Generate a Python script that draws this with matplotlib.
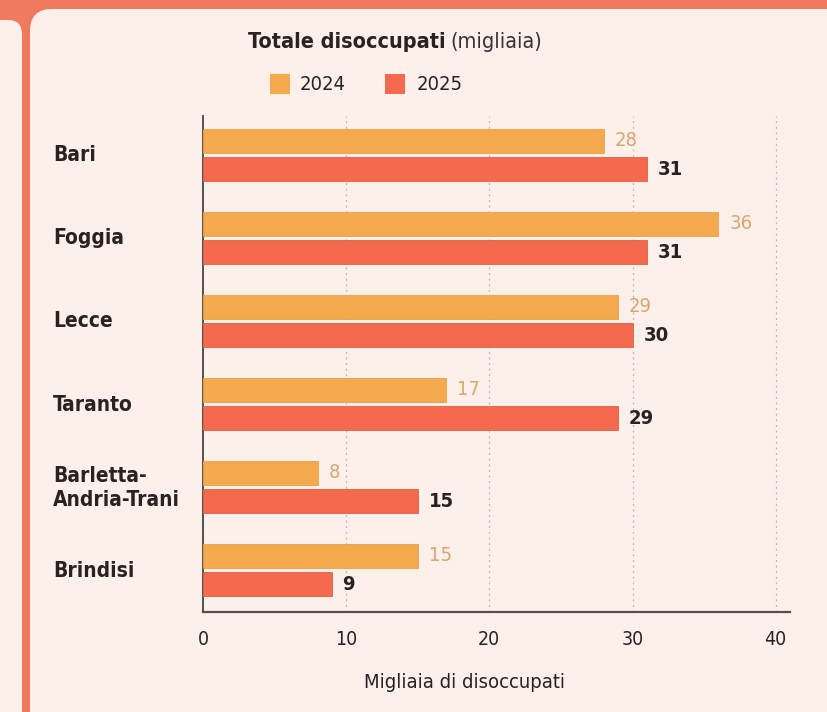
import matplotlib.pyplot as plt
import numpy as np
from matplotlib import font_manager
from matplotlib.patches import FancyBboxPatch, Rectangle

# --- dati ---
province = ["Bari", "Foggia", "Lecce", "Taranto", "Barletta-\nAndria-Trani", "Brindisi"]
val_2024 = [28, 36, 29, 17, 8, 15]
val_2025 = [31, 31, 30, 29, 15, 9]
anni = ["2024", "2025"]
x_ticks = [0, 10, 20, 30, 40]

# --- font stretto se disponibile ---
nomi = {f.name for f in font_manager.fontManager.ttflist}
stretti = [f for f in font_manager.fontManager.ttflist
           if f.stretch in ('condensed', 'semi-condensed', 'extra-condensed')]
if "Liberation Sans Narrow" in nomi:
    plt.rcParams['font.family'] = ["Liberation Sans Narrow", "DejaVu Sans"]
elif stretti:
    plt.rcParams['font.family'] = [stretti[0].name, "DejaVu Sans"]
    plt.rcParams['font.stretch'] = 'condensed'
else:
    plt.rcParams['font.family'] = ["DejaVu Sans"]

col_24, col_25 = '#f5a94f', '#f46a4e'
bordo = '#f07a5c'
sfondo = '#fdf0ea'
scuro = '#2a2222'

fig = plt.figure(figsize=(8.27, 7.12), dpi=100, facecolor=bordo)

# pannelli arrotondati (coordinate in pixel)
fig.patches.append(FancyBboxPatch((-60, -60), 82, 752, boxstyle="round,pad=0,rounding_size=14",
                                  transform=None, facecolor=sfondo, edgecolor='none', zorder=-5))
fig.patches.append(FancyBboxPatch((30, -60), 900, 763, boxstyle="round,pad=0,rounding_size=22",
                                  transform=None, facecolor=sfondo, edgecolor='none', zorder=-5))

ax = fig.add_axes([0.2455, 0.1404, 0.7098, 0.6966])
ax.set_facecolor('none')
ax.set_zorder(2)

y = np.arange(len(province))
h = 0.29
off = 0.172
ax.barh(y - off, val_2024, height=h, color=col_24, edgecolor='#e8a04a', linewidth=0.6, zorder=3)
ax.barh(y + off, val_2025, height=h, color=col_25, edgecolor='#e06046', linewidth=0.6, zorder=3)

for i in range(len(province)):
    ax.text(val_2024[i] + 0.75, y[i] - off, str(val_2024[i]), va='center', ha='left',
            fontsize=14.5, color='#d9a66e')
    ax.text(val_2025[i] + 0.75, y[i] + off, str(val_2025[i]), va='center', ha='left',
            fontsize=14.5, color=scuro, fontweight='bold')

ax.set_xlim(0, 41)
ax.set_ylim(5.506, -0.47)
ax.set_xticks(x_ticks)
ax.set_xticklabels([str(t) for t in x_ticks], fontsize=14, color=scuro)
ax.tick_params(axis='x', length=0, pad=13)
ax.set_yticks([])
for t in x_ticks[1:]:
    ax.axvline(t, color='#b9b4b6', linestyle=(0, (1.5, 3)), linewidth=0.9, zorder=1)

for s in ['top', 'right']:
    ax.spines[s].set_visible(False)
ax.spines['left'].set_color('#555050')
ax.spines['bottom'].set_color('#555050')
ax.spines['left'].set_linewidth(1.4)
ax.spines['bottom'].set_linewidth(1.6)

ax.set_xlabel("Migliaia di disoccupati", fontsize=14.5, color=scuro)
ax.xaxis.set_label_coords(0.445, -0.122)

# etichette province
for i, nome in enumerate(province):
    fig.text(53 / 827, 1 - (155 + 83.2 * i) / 712, nome, ha='left', va='center',
             fontsize=15, fontweight='bold', color=scuro, linespacing=1.25)

# titolo
t1 = fig.text(248 / 827, 1 - 42 / 712, "Totale disoccupati", ha='left', va='center',
              fontsize=15.5, fontweight='bold', color=scuro)
fig.canvas.draw()
bb = t1.get_window_extent()
fig.text((bb.x1 + 5) / 827, 1 - 42 / 712, "(migliaia)", ha='left', va='center',
         fontsize=15.5, color='#3a3232')

# legenda
fig.patches.append(Rectangle((270, 712 - 94), 20, 20, transform=None, facecolor=col_24,
                             edgecolor='none'))
fig.patches.append(Rectangle((385, 712 - 94), 20, 20, transform=None, facecolor=col_25,
                             edgecolor='none'))
fig.text(300 / 827, 1 - 84 / 712, anni[0], ha='left', va='center', fontsize=14.5, color=scuro)
fig.text(417 / 827, 1 - 84 / 712, anni[1], ha='left', va='center', fontsize=14.5, color=scuro)

fig.savefig("out.png", dpi=100, facecolor=fig.get_facecolor())
